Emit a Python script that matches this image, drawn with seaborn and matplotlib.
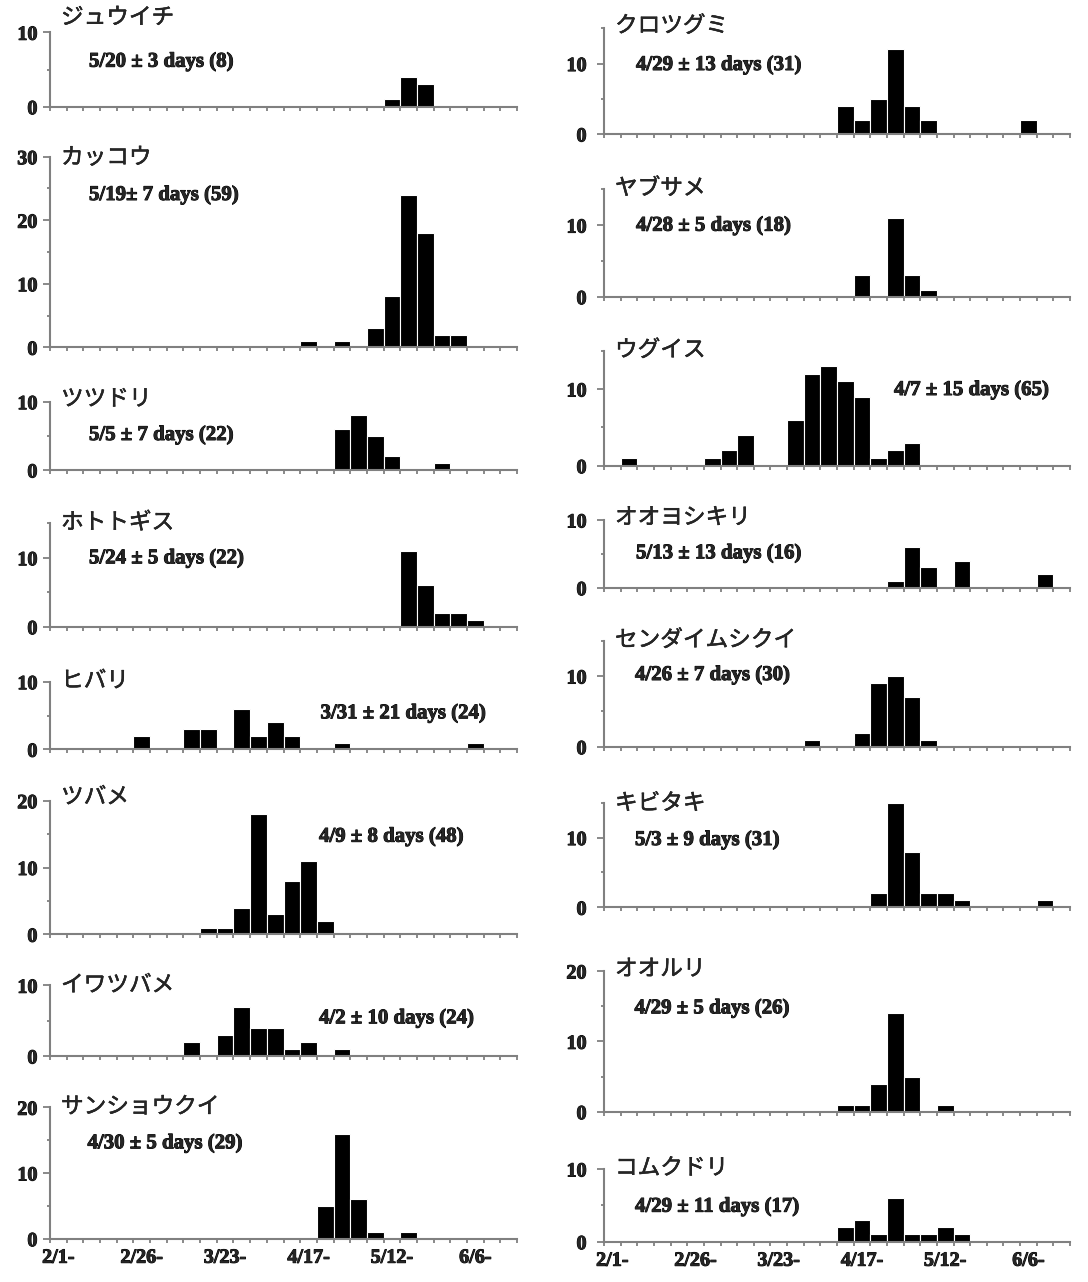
import numpy as np
import pandas as pd
import matplotlib
matplotlib.use("Agg")
import matplotlib.pyplot as plt
import matplotlib.patheffects as pe
from matplotlib.ticker import MultipleLocator, FixedLocator
import seaborn as sns

# ---------------- data ----------------
n_bins = 28
tick_bins = [0, 5, 10, 15, 20, 25]
tick_labels = ["2/1-", "2/26-", "3/23-", "4/17-", "5/12-", "6/6-"]

# left column
juuichi     = [0,0,0,0,0, 0,0,0,0,0, 0,0,0,0,0, 0,0,0,0,0, 1,4,3,0,0, 0,0,0]
kakkou      = [0,0,0,0,0, 0,0,0,0,0, 0,0,0,0,0, 1,0,1,0,3, 8,24,18,2,2, 0,0,0]
tsutsudori  = [0,0,0,0,0, 0,0,0,0,0, 0,0,0,0,0, 0,0,6,8,5, 2,0,0,1,0, 0,0,0]
hototogisu  = [0,0,0,0,0, 0,0,0,0,0, 0,0,0,0,0, 0,0,0,0,0, 0,11,6,2,2, 1,0,0]
hibari      = [0,0,0,0,0, 2,0,0,3,3, 0,6,2,4,2, 0,0,1,0,0, 0,0,0,0,0, 1,0,0]
tsubame     = [0,0,0,0,0, 0,0,0,0,1, 1,4,18,3,8, 11,2,0,0,0, 0,0,0,0,0, 0,0,0]
iwatsubame  = [0,0,0,0,0, 0,0,0,2,0, 3,7,4,4,1, 2,0,1,0,0, 0,0,0,0,0, 0,0,0]
sanshoukui  = [0,0,0,0,0, 0,0,0,0,0, 0,0,0,0,0, 0,5,16,6,1, 0,1,0,0,0, 0,0,0]
# right column
kurotsugumi = [0,0,0,0,0, 0,0,0,0,0, 0,0,0,0,4, 2,5,12,4,2, 0,0,0,0,0, 2,0,0]
yabusame    = [0,0,0,0,0, 0,0,0,0,0, 0,0,0,0,0, 3,0,11,3,1, 0,0,0,0,0, 0,0,0]
uguisu      = [0,1,0,0,0, 0,1,2,4,0, 0,6,12,13,11, 9,1,2,3,0, 0,0,0,0,0, 0,0,0]
ooyoshikiri = [0,0,0,0,0, 0,0,0,0,0, 0,0,0,0,0, 0,0,1,6,3, 0,4,0,0,0, 0,2,0]
sendai      = [0,0,0,0,0, 0,0,0,0,0, 0,0,1,0,0, 2,9,10,7,1, 0,0,0,0,0, 0,0,0]
kibitaki    = [0,0,0,0,0, 0,0,0,0,0, 0,0,0,0,0, 0,2,15,8,2, 2,1,0,0,0, 0,1,0]
oruri       = [0,0,0,0,0, 0,0,0,0,0, 0,0,0,0,1, 1,4,14,5,0, 1,0,0,0,0, 0,0,0]
komukudori  = [0,0,0,0,0, 0,0,0,0,0, 0,0,0,0,2, 3,1,6,1,1, 2,1,0,0,0, 0,0,0]

left_names = ["ジュウイチ", "カッコウ", "ツツドリ", "ホトトギス", "ヒバリ", "ツバメ", "イワツバメ", "サンショウクイ"]
left_counts = [juuichi, kakkou, tsutsudori, hototogisu, hibari, tsubame, iwatsubame, sanshoukui]
left_stats = ["5/20 ± 3 days (8)", "5/19± 7 days (59)", "5/5 ± 7 days (22)", "5/24 ± 5 days (22)",
              "3/31 ± 21 days (24)", "4/9 ± 8 days (48)", "4/2 ± 10 days (24)", "4/30 ± 5 days (29)"]
left_ymax = [10, 30, 10, 15, 10, 20, 10, 20]

right_names = ["クロツグミ", "ヤブサメ", "ウグイス", "オオヨシキリ", "センダイムシクイ", "キビタキ", "オオルリ", "コムクドリ"]
right_counts = [kurotsugumi, yabusame, uguisu, ooyoshikiri, sendai, kibitaki, oruri, komukudori]
right_stats = ["4/29 ± 13 days (31)", "4/28 ± 5 days (18)", "4/7 ± 15 days (65)", "5/13 ± 13 days (16)",
               "4/26 ± 7 days (30)", "5/3 ± 9 days (31)", "4/29 ± 5 days (26)", "4/29 ± 11 days (17)"]
right_ymax = [15, 15, 15, 10, 15, 15, 20, 10]

# ---------------- layout (pixels) ----------------
W, H = 1088, 1282
left_x = (50, 517)
right_x = (604, 1070)
left_y = [(32.3, 106.7), (156.7, 347.3), (401.7, 470), (523.3, 626.7),
          (681.7, 749.3), (800.7, 934.3), (985.3, 1056), (1107.3, 1238.7)]
right_y = [(28.3, 134), (189.3, 296.7), (350.7, 465.7), (520, 587.7),
           (640.7, 746.7), (802.7, 907.3), (971, 1111.7), (1169, 1241.7)]
left_title_y = [17.5, 157.5, 399, 522.5, 680.8, 797, 985, 1106.7]
right_title_y = [25.8, 188.3, 350, 517.5, 640, 803.3, 969, 1168]
left_stat_pos = [(89, 61.7), (89, 195), (89, 435), (89, 558.3), (320.5, 713.3),
                 (319, 836.7), (319, 1018.3), (87.5, 1143.3)]
right_stat_pos = [(636, 65), (636, 225.7), (894, 390), (636, 553.3), (635, 675),
                  (635, 840), (634.5, 1008.3), (635, 1206.7)]

sns.set_style("ticks")
plt.rcParams["font.family"] = ["Liberation Serif", "DejaVu Serif"]
plt.rcParams["font.weight"] = "bold"

GRAY = "#808080"
JP = ["Noto Sans CJK JP", "DejaVu Sans"]
THICK = [pe.withStroke(linewidth=0.7, foreground="black")]
THIN = [pe.withStroke(linewidth=0.35, foreground="black")]

fig = plt.figure(figsize=(W / 100, H / 100), dpi=100)


def draw_panel(xr, yr, counts, ymax, bottom, ypad):
    x0, x1 = xr
    y0, y1 = yr
    ax = fig.add_axes([x0 / W, 1 - y1 / H, (x1 - x0) / W, (y1 - y0) / H])
    df = pd.DataFrame({"bin": list(range(n_bins)), "count": counts})
    df = df[df["count"] > 0]
    sns.barplot(data=df, x="bin", y="count", order=list(range(n_bins)), color="black",
                saturation=1, width=1.0, edgecolor="white", linewidth=0.8, ax=ax)
    ax.set_xlim(-0.5, n_bins - 0.5)
    ax.set_ylim(0, ymax)
    ax.set_xlabel("")
    ax.set_ylabel("")
    for s in ["top", "right"]:
        ax.spines[s].set_visible(False)
    for s in ["left", "bottom"]:
        ax.spines[s].set_color(GRAY)
        ax.spines[s].set_linewidth(1.5)
        ax.spines[s].set_zorder(3)
    ax.yaxis.set_major_locator(MultipleLocator(10))
    ax.yaxis.set_minor_locator(MultipleLocator(5))
    ax.tick_params(axis="y", which="major", direction="out", length=4.8, width=1.3,
                   color=GRAY, labelsize=14.5, pad=ypad)
    ax.tick_params(axis="y", which="minor", direction="out", length=2.4, width=1.3, color=GRAY)
    ax.xaxis.set_major_locator(FixedLocator(tick_bins))
    ax.xaxis.set_minor_locator(FixedLocator(np.arange(-0.5, n_bins, 1.0)))
    if bottom:
        ax.set_xticklabels(tick_labels)
    else:
        ax.set_xticklabels([""] * len(tick_bins))
    ax.tick_params(axis="x", which="major", length=0, labelsize=14.5, pad=6.5)
    ax.tick_params(axis="x", which="minor", direction="out", length=2.9, width=1.3, color=GRAY)
    for lbl in ax.get_xticklabels() + ax.get_yticklabels():
        lbl.set_fontweight("bold")
        lbl.set_path_effects(THICK)
    return ax


for col in range(2):
    if col == 0:
        names, counts_l, stats, ymaxs = left_names, left_counts, left_stats, left_ymax
        xr, yrs, ty, sp, tx, ypad = left_x, left_y, left_title_y, left_stat_pos, 61, 4.3
    else:
        names, counts_l, stats, ymaxs = right_names, right_counts, right_stats, right_ymax
        xr, yrs, ty, sp, tx, ypad = right_x, right_y, right_title_y, right_stat_pos, 615, 7.8
    for i in range(8):
        draw_panel(xr, yrs[i], counts_l[i], ymaxs[i], i == 7, ypad)
        fig.text(tx / W, 1 - ty[i] / H, names[i], family=JP, fontsize=16.3,
                 fontweight="normal", va="center", ha="left", path_effects=THIN)
        fig.text(sp[i][0] / W, 1 - sp[i][1] / H, stats[i], fontsize=15,
                 fontweight="bold", va="center", ha="left", path_effects=THICK)

fig.savefig("out.png", dpi=100)
